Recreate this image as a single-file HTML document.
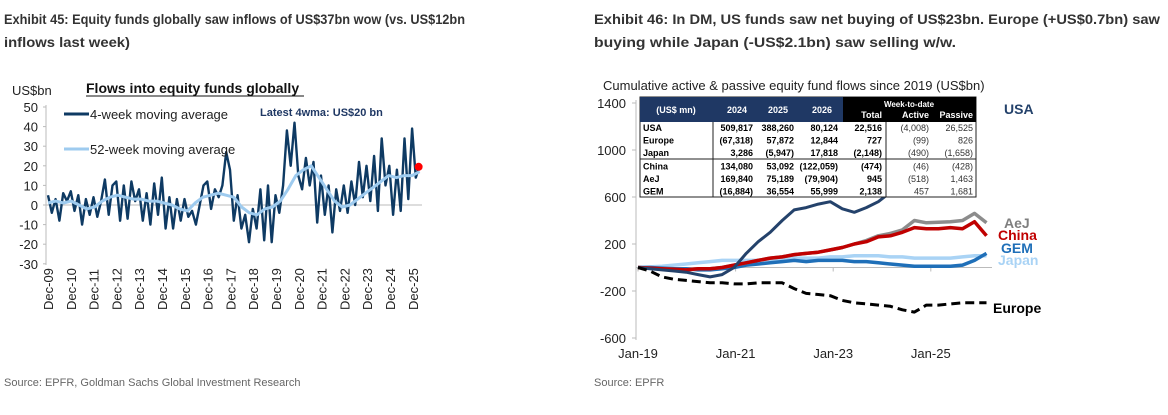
<!DOCTYPE html>
<html><head><meta charset="utf-8"><style>
html,body{margin:0;padding:0;background:#fff;}
svg{display:block;font-family:"Liberation Sans",Arial,sans-serif;}
</style></head><body>
<svg id="s" width="1168" height="415" viewBox="0 0 1168 415">
<defs><clipPath id="usaclip"><rect x="600" y="0" width="370" height="415"/></clipPath></defs>
<g fill="#333" font-weight="bold" font-size="14">
<text x="4" y="24" textLength="461" lengthAdjust="spacingAndGlyphs">Exhibit 45: Equity funds globally saw inflows of US$37bn wow (vs. US$12bn</text>
<text x="4" y="47" textLength="126" lengthAdjust="spacingAndGlyphs">inflows last week)</text>
<text x="594" y="24" textLength="566" lengthAdjust="spacingAndGlyphs">Exhibit 46: In DM, US funds saw net buying of US$23bn. Europe (+US$0.7bn) saw</text>
<text x="594" y="47" textLength="362" lengthAdjust="spacingAndGlyphs">buying while Japan (-US$2.1bn) saw selling w/w.</text>
</g>
<g fill="#666" font-size="11">
<text x="4" y="386">Source: EPFR, Goldman Sachs Global Investment Research</text>
<text x="594" y="386">Source: EPFR</text>
</g>
<g id="L"></g>
<g id="R"></g>
</svg>
<script>
// ---- Left chart data ----
const leftYTicks = [50,40,30,20,10,0,-10,-20,-30];
const leftXLabels = ["Dec-09","Dec-10","Dec-11","Dec-12","Dec-13","Dec-14","Dec-15","Dec-16","Dec-17","Dec-18","Dec-19","Dec-20","Dec-21","Dec-22","Dec-23","Dec-24","Dec-25"];
const wma4 = [5,-4,3,-8,6,2, 7,-3,5,-10,3,-5, 4,-6,2,13,-5,10, 12,-8,10,-7,12,2, 8,-8,6,-10,11,-5, 14,-12,4,-12,3,-8, 3,-6,-3,-10,0,10, 12,-2,8,4,10,27, 18,-8,5,-12,-5,-19, -2,-12,8,-18,10,-19, 5,-4,10,38,20,42, 15,8,24,10,22,-9, 15,-5,10,-14,8,-3, 10,-4,12,0,22,4, 20,2,25,-3,34,10, 20,-5,18,-3,34,3, 39,14,20];
const wma52 = [1,2,1, 2,0,-2, -1,2,4, 5,4,3, 3,2,2, 1,0,-2, -3,1,4, 5,6,5, 4,-1,-4, -5,-2,-1, 2,8,15, 18,20,14, 8,2,-1, 0,3,6, 9,12,15, 14,15,15, 17];
const latestValue = 20;
// ---- Right chart data ----
const rightYTicks = [1400,1000,600,200,-200,-600];
const rightXLabels = ["Jan-19","Jan-21","Jan-23","Jan-25"];
const usa   = [0,-10,-20,-30,-40,-60,-80,-60,0,120,220,300,400,490,510,540,560,500,470,510,560,640,750,850,950,1050,1150,1250,1300,1350];
const china = [0,-5,-10,-15,-20,-10,-10,0,20,40,60,80,90,110,120,130,150,170,200,220,260,270,300,340,330,330,340,330,390,270];
const aej   = [0,-5,-10,-15,-20,-10,-10,0,20,40,60,80,90,110,120,130,150,170,200,230,270,290,320,400,380,385,390,400,460,380];
const gem   = [0,0,-5,-10,-10,-20,-20,-10,0,20,30,40,50,60,50,60,60,60,50,50,40,30,20,10,10,10,10,20,60,120];
const japan = [0,5,10,20,30,40,50,60,60,60,60,70,70,80,80,80,90,90,100,100,100,90,90,80,80,80,80,90,100,100];
const europe= [0,-30,-80,-100,-110,-120,-130,-130,-140,-140,-130,-130,-130,-180,-220,-230,-240,-280,-300,-310,-320,-330,-360,-380,-320,-320,-310,-300,-300,-300];
const tableHead = ["(US$ mn)","2024","2025","2026","Total","Active","Passive"];
const tableRows = [
 ["USA","509,817","388,260","80,124","22,516","(4,008)","26,525"],
 ["Europe","(67,318)","57,872","12,844","727","(99)","826"],
 ["Japan","3,286","(5,947)","17,818","(2,148)","(490)","(1,658)"],
 ["China","134,080","53,092","(122,059)","(474)","(46)","(428)"],
 ["AeJ","169,840","75,189","(79,904)","945","(518)","1,463"],
 ["GEM","(16,884)","36,554","55,999","2,138","457","1,681"]];

const NS="http://www.w3.org/2000/svg";
function mk(parent,tag,attrs,text){const e=document.createElementNS(NS,tag);for(const k in attrs)e.setAttribute(k,attrs[k]);if(text!==undefined)e.textContent=text;parent.appendChild(e);return e;}

// Left chart
const L=document.getElementById('L');
const ly=v=>205-v*1.96;
const lx=yr=>48+yr*22.8;
mk(L,'line',{x1:46,y1:105,x2:46,y2:265,stroke:'#bbb'});
mk(L,'line',{x1:46,y1:205,x2:422,y2:205,stroke:'#bbb'});
leftYTicks.forEach(t=>{
 const e=mk(L,'text',{x:38,y:ly(t)+5,'text-anchor':'end','font-size':13,fill:'#222'},String(t));
 
 
 mk(L,'line',{x1:43,y1:ly(t),x2:46,y2:ly(t),stroke:'#bbb'});
});
leftXLabels.forEach((t,i)=>{
 const x=lx(i);
 const e=mk(L,'text',{x:0,y:0,transform:`translate(${x+5},310) rotate(-90)`,'font-size':13,fill:'#222'},t);
 
 
});
const sp4=16.3/(wma4.length-1);
let p4=wma4.map((v,i)=>`${lx(i*sp4).toFixed(1)},${ly(v).toFixed(1)}`).join(' ');
const l4=mk(L,'polyline',{points:p4,fill:'none',stroke:'#0e3a63','stroke-width':2.4,'stroke-linejoin':'round'});


const sp52=16.3/(wma52.length-1);
let p52=wma52.map((v,i)=>`${lx(i*sp52).toFixed(1)},${ly(v).toFixed(1)}`).join(' ');
const l52=mk(L,'polyline',{points:p52,fill:'none',stroke:'#9ecbef','stroke-width':3,'stroke-linejoin':'round'});


const dot=mk(L,'circle',{cx:lx(16.3)-1,cy:ly(latestValue)+1,r:4,fill:'#f00'});


[['US$bn',12,95,13,'normal','#222','left-y-unit'],['Latest 4wma: US$20 bn',260,116,11,'bold','#1f3864','latest-annotation']].forEach(a=>{
 const e=mk(L,'text',{x:a[1],y:a[2],'font-size':a[3],'font-weight':a[4],fill:a[5]},a[0]);
 
 
});
const lt=mk(L,'text',{x:86,y:93,'font-size':14,'font-weight':'bold',fill:'#111'},'Flows into equity funds globally');


mk(L,'line',{x1:86,y1:96,x2:304,y2:96,stroke:'#111','stroke-width':1});
mk(L,'line',{x1:64,y1:114,x2:89,y2:114,stroke:'#0e3a63','stroke-width':3});
const le1=mk(L,'text',{x:90,y:119,'font-size':13,fill:'#222'},'4-week moving average');


mk(L,'line',{x1:64,y1:149,x2:89,y2:149,stroke:'#9ecbef','stroke-width':3});
const le2=mk(L,'text',{x:90,y:154,'font-size':13,fill:'#222'},'52-week moving average');



// Right chart
const R=document.getElementById('R');
const ry=v=>267.5-v*0.1175;
const rx=q=>638+q*12.2;
mk(R,'line',{x1:636,y1:100,x2:636,y2:340,stroke:'#bbb'});
mk(R,'line',{x1:636,y1:ry(0),x2:992,y2:ry(0),stroke:'#bbb'});
rightYTicks.forEach(t=>{
 const e=mk(R,'text',{x:626,y:ry(t)+5,'text-anchor':'end','font-size':13,fill:'#222'},String(t));
 
 
 mk(R,'line',{x1:632,y1:ry(t),x2:636,y2:ry(t),stroke:'#bbb'});
});
rightXLabels.forEach((t,i)=>{
 const x=rx(i*8);
 const e=mk(R,'text',{x:x,y:358,'text-anchor':'middle','font-size':13,fill:'#222'},t);
 
 
 mk(R,'line',{x1:x,y1:ry(0),x2:x,y2:ry(0)+4,stroke:'#bbb'});
});
const series=[[japan,'#a9d3f5',3.5,'',"japan-line"],[gem,'#1f6fb8',3.5,'',"gem-line"],[aej,'#8c8c8c',3.5,'',"aej-line"],[china,'#c00000',3.5,'',"china-line"],[usa,'#24426b',3,'',"usa-line"],[europe,'#000',3,'9,5',"europe-line"]];
series.forEach(s=>{
 const pts=s[0].map((v,i)=>`${rx(i*0.985).toFixed(1)},${ry(v).toFixed(1)}`).join(' ');
 const e=mk(R,'polyline',{points:pts,fill:'none',stroke:s[1],'stroke-width':s[2],'stroke-dasharray':s[3],'stroke-linejoin':'round'});
 if(s[4]==='usa-line') e.setAttribute('clip-path','url(#usaclip)');
 
 
});
const rt=mk(R,'text',{x:603,y:90,'font-size':13,fill:'#222'},'Cumulative active & passive equity fund flows since 2019 (US$bn)');


[['USA',1004,114,'#24426b','label-usa'],['AeJ',1004,228,'#7f7f7f','label-aej'],['China',998,240,'#c00000','label-china'],['GEM',1001,253,'#1f6fb8','label-gem'],['Japan',998,265,'#a9d3f5','label-japan'],['Europe',993,313,'#000','label-europe']].forEach(a=>{
 const e=mk(R,'text',{x:a[1],y:a[2],'font-size':14,'font-weight':'bold',fill:a[3]},a[0]);
 
 
});
// table
const T=mk(R,'g',{});


mk(T,'rect',{x:640,y:97,width:336,height:100,fill:'#fff',stroke:'#222','stroke-width':1});
mk(T,'rect',{x:640,y:97,width:203,height:25,fill:'#1f3864'});
mk(T,'rect',{x:843,y:97,width:133,height:25,fill:'#000'});
const colR=[0,753,794,838,882,929,973];
tableHead.forEach((h,i)=>{
 if(i===0){const e=mk(T,'text',{x:676,y:113,'text-anchor':'middle','font-size':9,'font-weight':'bold',fill:'#fff'},h);return;}
 const y=i<4?113:118;
 const e=mk(T,'text',{x:colR[i]-(i<4?6:0),y:y,'text-anchor':'end','font-size':9,'font-weight':'bold',fill:'#fff'},h);
 
 
});
const wt=mk(T,'text',{x:909,y:107,'text-anchor':'middle','font-size':8,'font-weight':'bold',fill:'#fff'},'Week-to-date');


mk(T,'line',{x1:713,y1:122,x2:713,y2:197,stroke:'#222'});
mk(T,'line',{x1:886,y1:122,x2:886,y2:197,stroke:'#222'});
mk(T,'line',{x1:640,y1:159,x2:976,y2:159,stroke:'#222'});
tableRows.forEach((r,ri)=>{
 const y=131+ri*12.6+(ri>=3?0.5:0);
 r.forEach((c,ci)=>{
  const bold=ci<5;
  const e=ci===0?mk(T,'text',{x:643,y:y,'font-size':9,'font-weight':'bold',fill:'#000'},c)
   :mk(T,'text',{x:colR[ci],y:y,'text-anchor':'end','font-size':9,'font-weight':bold?'bold':'normal',fill:bold?'#000':'#333'},c);
  
  
 });
});
</script>
</body></html>
